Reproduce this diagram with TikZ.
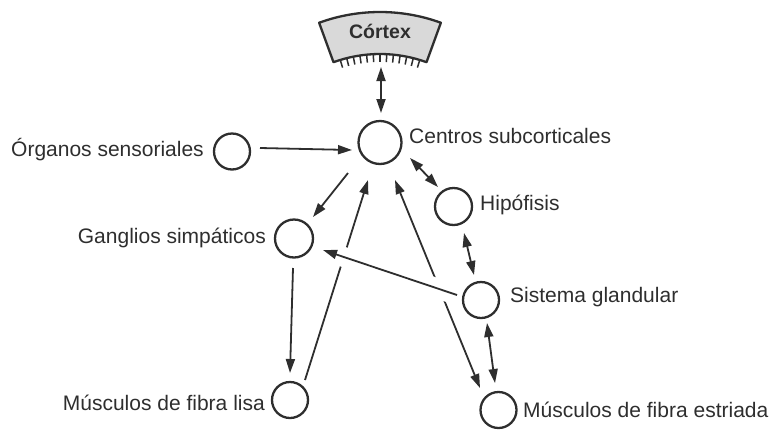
\documentclass[tikz,border=0pt]{standalone}
\usepackage{fontspec}
\setmainfont{Liberation Sans}
\usetikzlibrary{arrows.meta,calc}
\definecolor{ink}{HTML}{2E2E2E}
\begin{document}
\begin{tikzpicture}[x=1pt,y=1pt,yscale=-1,
  hd/.tip={Triangle[length=14pt,width=9pt]},
  nucleus/.style={circle,draw=ink,line width=2.3pt,minimum size=36pt,inner sep=0pt},
  tag/.style={text=ink,font=\fontsize{21}{24}\selectfont,inner sep=0pt},
  link/.style={draw=ink,line width=1.8pt,-hd},
  both/.style={draw=ink,line width=1.8pt,hd-hd},
  gap/.style={draw=white,line width=20pt}]
\useasboundingbox (0,0) rectangle (773,429);

% cortex: annular sector with ticks under its lower rim
\coordinate (fan) at (380,190);
\filldraw[fill=gray!30,draw=ink,line width=2.3pt,line join=round]
  ($(fan)+(250:178)$) arc[start angle=250,end angle=290,radius=178]
  -- ($(fan)+(290:136)$) arc[start angle=290,end angle=250,radius=136] -- cycle;
\foreach \k in {0,...,12}{
  \pgfmathsetmacro\a{253+\k*34/12}
  \draw[ink,line width=1.5pt] ($(fan)+(\a:136)$) -- ($(fan)+(\a:128)$);
}
\node[text=ink,font=\bfseries\fontsize{19.5}{22}\selectfont,anchor=base,inner sep=0pt] (ctx) at (380,38.5) {Córtex};
\coordinate (cxb) at (381,67);

% nuclei
\node[nucleus,minimum size=43pt] (cen) at (380,142.5) {};
\node[nucleus] (org) at (232,151.5) {};
\node[nucleus,minimum size=37pt] (hip) at (453.5,206.5) {};
\node[nucleus,minimum size=38pt] (gan) at (294,238.5) {};
\node[nucleus] (sis) at (481,300) {};
\node[nucleus] (lis) at (290,400) {};
\node[nucleus] (est) at (498.5,410) {};

% labels
\node[tag,anchor=base west] (cenl) at (409,143) {Centros subcorticales};
\node[tag,anchor=base east] (orgl) at (204,156) {Órganos sensoriales};
\node[tag,anchor=base west] (hipl) at (480,210) {Hipófisis};
\node[tag,anchor=base east] (ganl) at (266,243) {Ganglios simpáticos};
\node[tag,anchor=base west] (sisl) at (510,302) {Sistema glandular};
\node[tag,anchor=base east] (lisl) at (265,410) {Músculos de fibra lisa};
\node[tag,anchor=base west] (estl) at (523,417) {Músculos de fibra estriada};

% connections
\draw[both] (cxb) -- ($(cen)+(1,-29.5)$);
\draw[link] ($(org)+(28,-3.5)$) -- ($(cen)+(-28,7.5)$);
\draw[both] ($(cen)+(30,15.5)$) -- ($(hip)+(-15.5,-19.5)$);
\draw[link] ($(cen)+(-32,30.5)$) -- ($(gan)+(19,-21.5)$);
\draw[both] ($(hip)+(10.5,26.5)$) -- ($(sis)+(-7,-25)$);
\draw[link] ($(gan)+(-1,29.5)$) -- ($(lis)+(0,-27)$);
\draw[link] ($(lis)+(15,-20)$) -- ($(cen)+(-12,37.5)$);
\draw[both] ($(cen)+(15,37.5)$) -- ($(est)+(-18.5,-22)$);
\draw[both] ($(sis)+(6,23)$) -- ($(est)+(-3.5,-27)$);

% glandular system to ganglia, passing over the two long lines
\coordinate (fa) at ($(sis)+(-24,-5)$);
\coordinate (fb) at ($(gan)+(29,11.5)$);
\draw[gap] ($(fa)!0.04!(fb)$) -- ($(fa)!0.92!(fb)$);
\draw[link] (fa) -- (fb);
\end{tikzpicture}
\end{document}
